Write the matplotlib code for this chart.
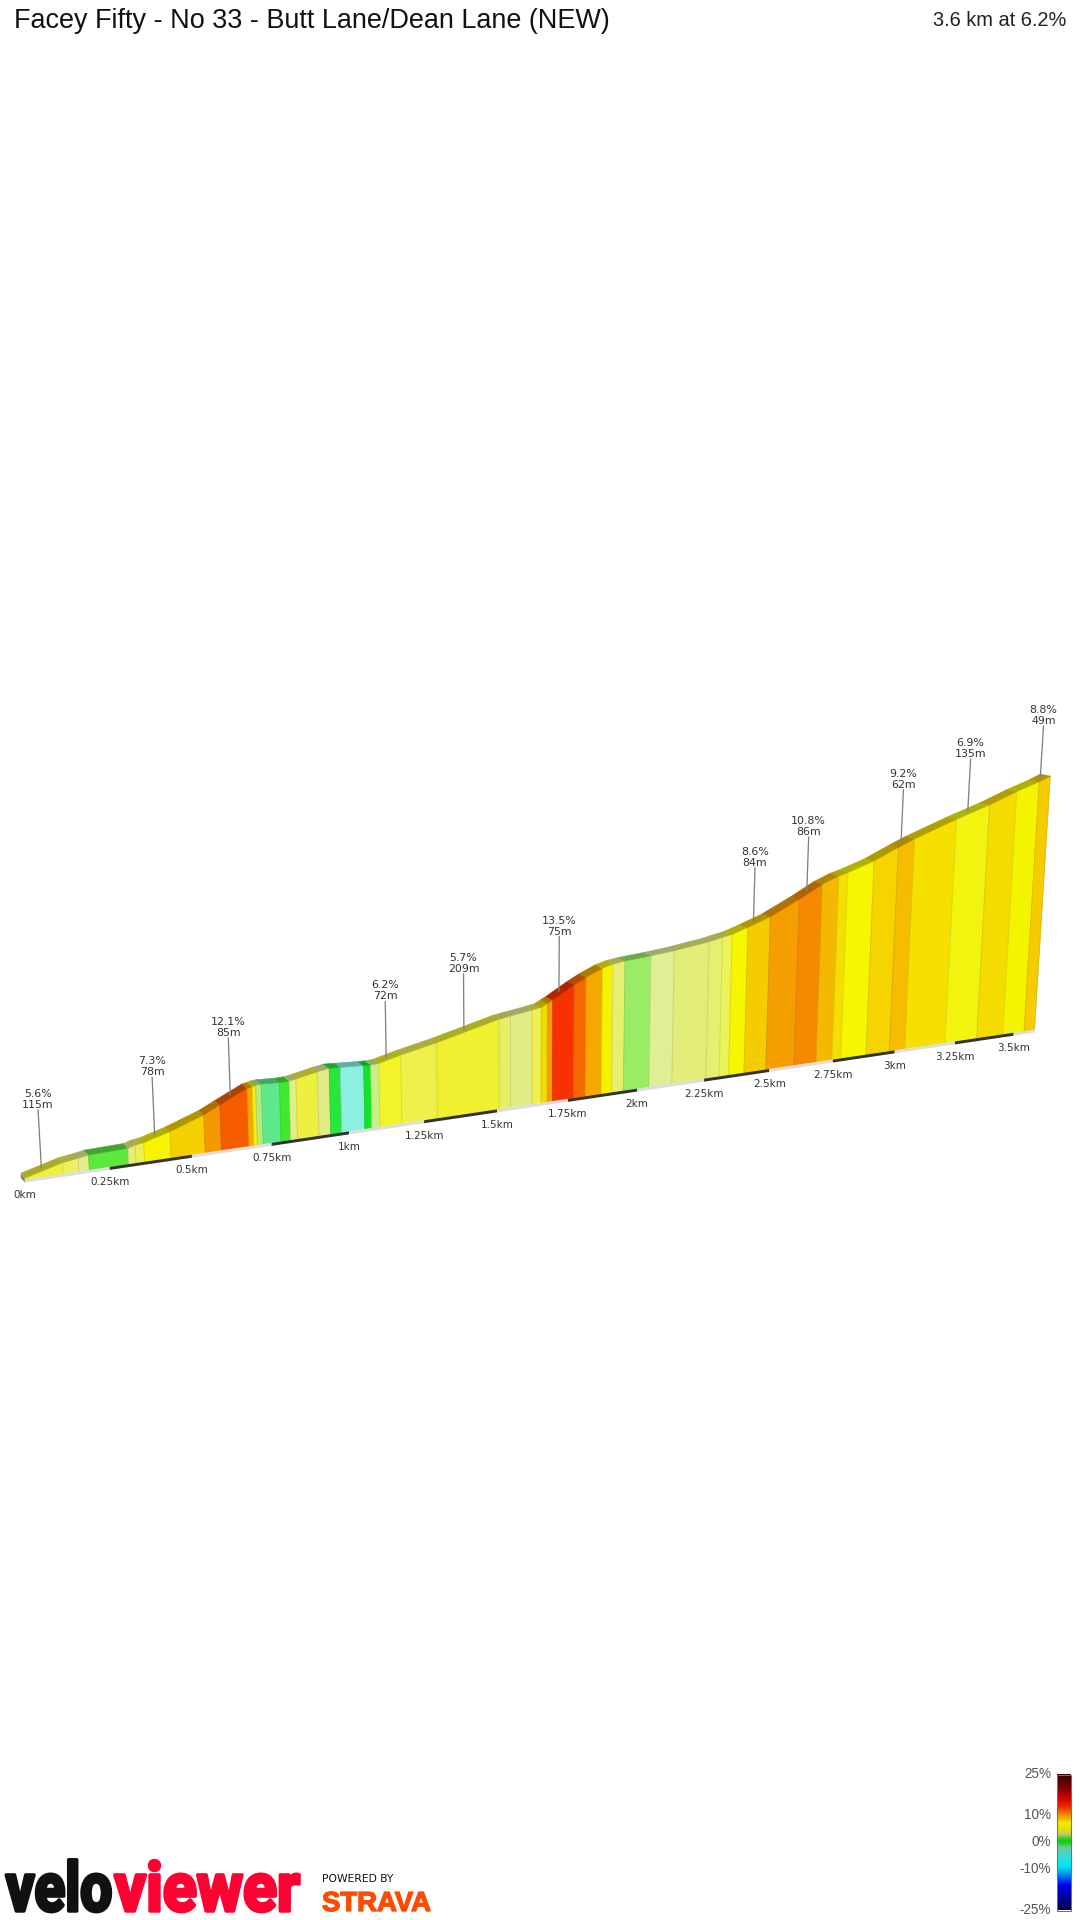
import matplotlib
matplotlib.use("Agg")
import matplotlib.pyplot as plt
import matplotlib.patheffects as pe
from matplotlib.colors import LinearSegmentedColormap, to_rgb
from matplotlib.patches import Polygon, Rectangle
from matplotlib.transforms import Affine2D
import numpy as np

# Segment ends along the climb (km) and elevation gained there (m)
distance = [0, 0.112, 0.158, 0.189, 0.307, 0.329, 0.355, 0.436, 0.541, 0.592, 0.678, 0.694, 0.705, 0.723,
            0.780, 0.811, 0.833, 0.902, 0.940, 0.976, 1.052, 1.075, 1.102, 1.175, 1.295, 1.507, 1.547, 1.622,
            1.654, 1.676, 1.694, 1.769, 1.811, 1.869, 1.907, 1.950, 2.044, 2.129, 2.257, 2.307, 2.343, 2.402,
            2.486, 2.596, 2.683, 2.746, 2.781, 2.883, 2.978, 3.041, 3.208, 3.342, 3.453, 3.545, 3.591]
elevation = [2.0, 9.1, 10.6, 11.9, 12.6, 14.2, 15.0, 20.3, 29.0, 34.7, 44.2, 44.9, 45.6, 46.0,
             45.2, 45.4, 46.2, 49.5, 50.9, 50.5, 49.4, 49.2, 49.6, 53.7, 59.5, 71.4, 72.8, 75.3,
             76.5, 79.0, 81.1, 90.9, 95.8, 101.5, 103.8, 105.1, 106.8, 108.7, 112.6, 114.9, 116.4, 120.7,
             127.3, 139.1, 149.5, 155.0, 157.0, 164.5, 173.9, 179.7, 193.0, 202.7, 212.1, 218.9, 223.0]

# One colour per segment
band_colors = ["#eef03a", "#eef25a", "#e4ec8c", "#5ce83c", "#e4ee7e", "#eef050", "#f6f400", "#f5d000", "#f59800",
               "#f55c00", "#f5a800", "#f6ee10", "#b8ec74", "#5eea8c", "#40e830", "#e2ee86", "#eef040", "#e2ec86",
               "#28e63c", "#8cf0e0", "#14e428", "#c8f088", "#f0f428", "#eef04a", "#f0f030", "#e6ee64", "#e2ec84",
               "#eef050", "#f5da00", "#f5a000", "#f53200", "#f56800", "#f5a800", "#f5f200", "#e8ee70", "#9aec64",
               "#e0ee94", "#e2ee78", "#e6f070", "#ecf25a", "#f5f600", "#f5cc00", "#f59e00", "#f58a00", "#f5b800",
               "#f5de00", "#f5f600", "#f5d400", "#f5bc00", "#f5e000", "#f2f410", "#f5dc00", "#f5f400", "#f5cc00"]

# Highlighted sections
section_at = [0.055, 0.396, 0.633, 1.136, 1.398, 1.728, 2.438, 2.64, 3.006, 3.273, 3.57]
section_grade = ["5.6%", "7.3%", "12.1%", "6.2%", "5.7%", "13.5%", "8.6%", "10.8%", "9.2%", "6.9%", "8.8%"]
section_length = ["115m", "78m", "85m", "72m", "209m", "75m", "84m", "86m", "62m", "135m", "49m"]

tick_km = [0, 0.25, 0.5, 0.75, 1, 1.25, 1.5, 1.75, 2, 2.25, 2.5, 2.75, 3, 3.25, 3.5]
tick_labels = ["0km", "0.25km", "0.5km", "0.75km", "1km", "1.25km", "1.5km", "1.75km", "2km", "2.25km",
               "2.5km", "2.75km", "3km", "3.25km", "3.5km"]

legend_pct = [25, 10, 0, -10, -25]
legend_labels = ["25%", "10%", "0%", "-10%", "-25%"]
legend_stops = [-25, -20, -16, -12, -9, -5, -2, 0, 1, 3, 5, 7, 10, 13, 16, 20, 25]
legend_colors = ["#000050", "#0000a0", "#0000f0", "#0090f0", "#00e8f0", "#40d8d8", "#70c8a0", "#10d010", "#20d020",
                 "#c8c860", "#e8e000", "#f5e800", "#f09000", "#e83000", "#d80000", "#800000", "#3d0000"]


def base_x(d):
    return 25 + 344.25 * np.asarray(d, dtype=float) / (1 + 0.0625 * np.asarray(d, dtype=float))


def base_y(d):
    return 1181 - (base_x(d) - 25) * 0.1485


def top_xy(d, e):
    # heights shrink with distance and verticals lean away from the centre
    h = np.asarray(e) * 1.4 / (1 + 0.0625 * np.asarray(d))
    x = base_x(d)
    return x + (x - 520) * h * 0.00012, base_y(d) - h


def back_xy(d, e):
    x, y = top_xy(d, e)
    t = np.asarray(d) / 3.591
    return x - 4 - 6 * t, y - 5 + 3 * t


def darker(c, k=0.72):
    return tuple(v * k for v in to_rgb(c))


class LogoStretch(pe.AbstractPathEffect):
    # stretches logo text around its anchor and fattens it with an outline
    def __init__(self, sx, sy, cx, cy, lw, color):
        super().__init__()
        self.sx, self.sy, self.cx, self.cy, self.lw, self.color = sx, sy, cx, cy, lw, color

    def draw_path(self, renderer, gc, tpath, affine, rgbFace):
        a = affine + Affine2D().translate(-self.cx, -self.cy).scale(self.sx, self.sy).translate(self.cx, self.cy)
        gc0 = renderer.new_gc()
        gc0.copy_properties(gc)
        gc0.set_linewidth(self.lw)
        gc0.set_foreground(self.color)
        renderer.draw_path(gc0, tpath, a, rgbFace)
        gc0.restore()


fig = plt.figure(figsize=(10.8, 19.2), dpi=100)
ax = fig.add_axes([0, 0, 1, 1])
ax.set_xlim(0, 1080)
ax.set_ylim(1920, 0)
ax.axis("off")

px = 0.72  # points per pixel at this dpi

# Start wall
x0, y0 = top_xy(0, elevation[0])
bx0, by0 = back_xy(0, elevation[0])
ax.add_patch(Polygon([(bx0, by0), (x0, y0), (x0, base_y(0) + 1.5), (bx0, base_y(0) - 3)], fc="#808080", ec="none"))

# Front face and top strip, one segment at a time
for i, col in enumerate(band_colors):
    d1, d2 = distance[i], distance[i + 1]
    e1, e2 = elevation[i], elevation[i + 1]
    x1, y1 = top_xy(d1, e1)
    x2, y2 = top_xy(d2, e2)
    bx1, by1 = back_xy(d1, e1)
    bx2, by2 = back_xy(d2, e2)
    ax.add_patch(Polygon([(x1, y1), (x2, y2), (base_x(d2), base_y(d2) - 1.5), (base_x(d1), base_y(d1) - 1.5)],
                         fc=col, ec=col, lw=0.4))
    ax.add_patch(Polygon([(bx1, by1), (bx2, by2), (x2, y2), (x1, y1)], fc=darker(col), ec=darker(col), lw=0.4))
    ax.plot([x2, base_x(d2)], [y2, base_y(d2) - 1.5], color="black", alpha=0.1, lw=1 * px, solid_capstyle="butt")

# Road strip with alternating quarter km blocks
edges = tick_km + [distance[-1]]
for i in range(len(edges) - 1):
    a, b = edges[i], edges[i + 1]
    ax.add_patch(Polygon([(base_x(a), base_y(a) - 1.5), (base_x(b), base_y(b) - 1.5),
                          (base_x(b), base_y(b) + 1.5), (base_x(a), base_y(a) + 1.5)],
                         fc="#333333" if i % 2 else "#dddddd", ec="none"))

for km, lab in zip(tick_km, tick_labels):
    ax.text(base_x(km), base_y(km) + 14, lab, ha="center", va="center", fontsize=10.4 * px, color="#333333")

# Section leaders and labels
for d, g, l in zip(section_at, section_grade, section_length):
    e = np.interp(d, distance, elevation)
    fx, fy = top_xy(d, e)
    bx, by = back_xy(d, e)
    ax_x, ax_y = (fx + bx) / 2, (fy + by) / 2
    length = 58 - 1.8 * d
    tx = ax_x + (ax_x - 520) * 0.00012 * length
    ty = ax_y - length
    ax.plot([ax_x, tx], [ax_y, ty], color="#808080", lw=1.3 * px)
    ax.text(tx, ty - 16, g, ha="center", va="center", fontsize=11 * px, color="#333333")
    ax.text(tx, ty - 5, l, ha="center", va="center", fontsize=11 * px, color="#333333")

# Title
ax.text(14, 21, "Facey Fifty - No 33 - Butt Lane/Dean Lane (NEW)", ha="left", va="center",
        fontsize=27 * px, family="Liberation Sans", color="#111111")
ax.text(1066, 20, "3.6 km at 6.2%", ha="right", va="center", fontsize=20 * px, family="Liberation Sans",
        color="#222222")

# Gradient legend
cmap = LinearSegmentedColormap.from_list("grade", [((s + 25) / 50, c) for s, c in zip(legend_stops, legend_colors)])
grad = np.linspace(25, -25, 136).reshape(-1, 1)
ax.imshow(grad, cmap=cmap, vmin=-25, vmax=25, extent=(1057, 1070.5, 1910.5, 1775), aspect="auto", zorder=3)
ax.add_patch(Rectangle((1057, 1775), 13.5, 135.5, fc="none", ec="#776a80", lw=1 * px, zorder=4))
ax.set_xlim(0, 1080)
ax.set_ylim(1920, 0)
for p, lab in zip(legend_pct, legend_labels):
    ax.text(1051, 1842 - p * 2.72, lab, ha="right", va="center", fontsize=13.5 * px, family="Liberation Sans",
            color="#555555")

# Logo
ax.text(59, 1911, "velo", ha="center", va="baseline", fontsize=61 * px, family="Roboto", fontweight="bold",
        color="#111111", path_effects=[LogoStretch(0.93, 1.12, 59, 9, 2.5, "#111111")])
ax.text(207, 1911, "viewer", ha="center", va="baseline", fontsize=61 * px, family="Roboto", fontweight="bold",
        color="#ff0033", path_effects=[LogoStretch(1.03, 1.12, 207, 9, 2.5, "#ff0033")])
ax.text(322, 1879, "POWERED BY", ha="left", va="center", fontsize=10.8 * px, family="DejaVu Sans", color="#111111")
ax.text(322, 1911, "STRAVA", ha="left", va="baseline", fontsize=27.5 * px, family="Liberation Sans",
        fontweight="bold", color="#fc4c02",
        path_effects=[pe.withStroke(linewidth=1, foreground="#fc4c02")])

fig.savefig("out.png", dpi=100)
